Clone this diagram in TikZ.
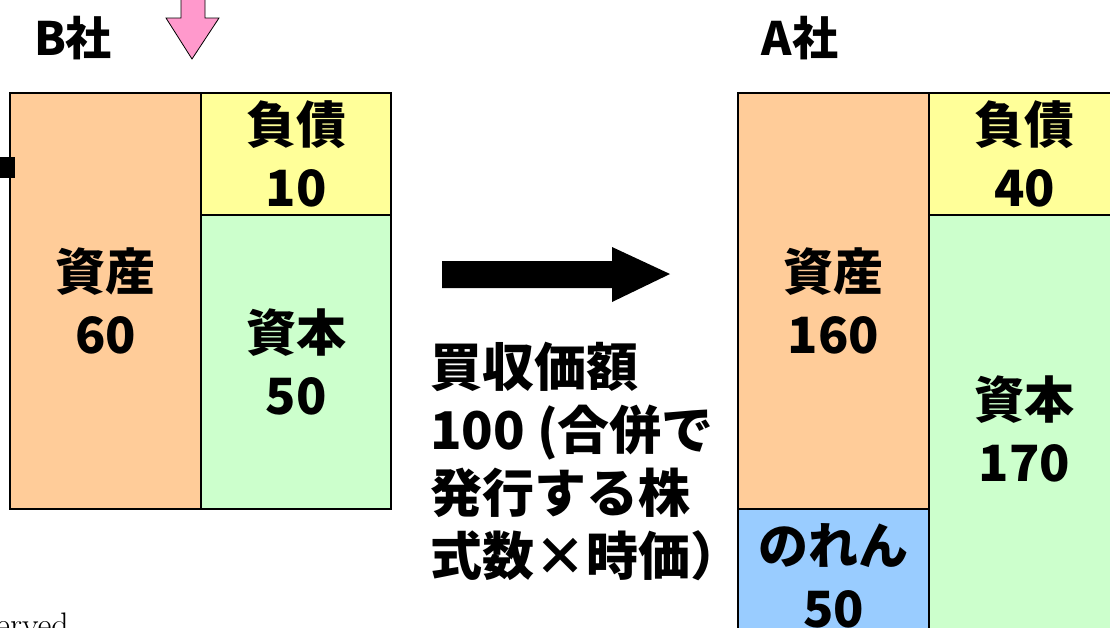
\documentclass[tikz,border=0pt]{standalone}
\usepackage{fontspec}
\newfontfamily\jpfont{Noto Sans CJK JP}
\usetikzlibrary{positioning}

\definecolor{asset}{HTML}{FFCC99}
\definecolor{debt}{HTML}{FFFF99}
\definecolor{equity}{HTML}{CCFFCC}
\definecolor{goodwill}{HTML}{99CCFF}
\definecolor{arrowpink}{HTML}{FF99CC}

\tikzset{
  acct/.style={draw, line width=1.5pt, inner sep=0pt, outer sep=0pt, align=center,
    font=\jpfont\bfseries\fontsize{50}{63}\selectfont},
  firm/.style={font=\jpfont\bfseries\fontsize{46}{46}\selectfont},
}

\begin{document}
\begin{tikzpicture}[x=1pt, y=-1pt]
\useasboundingbox (0,0) rectangle (1110,627);
% B社 (before)
\node[firm] (bname) at (73,38) {B社};
\draw[fill=arrowpink, line width=0.8pt] (181,-5) -- (181,18) -- (166,18) -- (192,59) -- (219,18) -- (205,18) -- (205,-5) -- cycle;
\node[acct, fill=asset, minimum width=191, minimum height=416] (basset) at (105.5,301) {資産\\60};
\node[acct, fill=debt, minimum width=190, minimum height=122] (bdebt) at (296,154) {負債\\10};
\node[acct, fill=equity, minimum width=190, minimum height=294] (bequity) at (296,362) {資本\\50};
\fill (0,157) rectangle (15,178);
% merger arrow
\fill (442,261) -- (612,261) -- (612,247) -- (670,274) -- (612,302) -- (612,288) -- (442,288) -- cycle;
\node[anchor=west, align=left, inner sep=0pt, font=\jpfont\bfseries\fontsize{52}{63}\selectfont] (price) at (430,461)
  {買収価額\\100 (合併で\\発行する株\\式数×時価）};
% A社 (after)
\node[firm] (aname) at (800,38) {A社};
\node[acct, fill=asset, minimum width=191, minimum height=416] (aasset) at (833.5,301) {資産\\160};
\node[acct, fill=goodwill, minimum width=191, minimum height=134] (agoodwill) at (833.5,576) {のれん\\50};
\node[acct, fill=debt, minimum width=191, minimum height=122] (adebt) at (1024.5,154) {負債\\40};
\node[acct, fill=equity, minimum width=191, minimum height=428] (aequity) at (1024.5,429) {資本\\170};
% cut-off footer
\node[anchor=base west, inner sep=0pt, font=\rmfamily\fontsize{34}{34}\selectfont] (note) at (-4,636) {erved};
\end{tikzpicture}
\end{document}
